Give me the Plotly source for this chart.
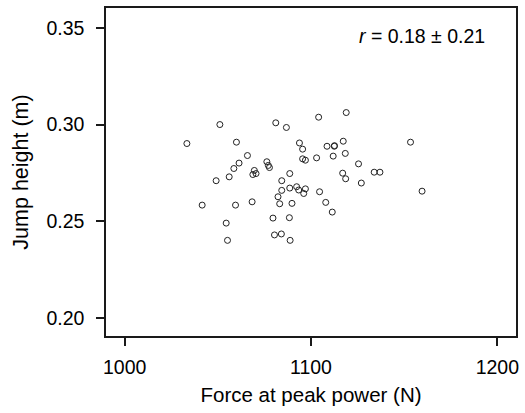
import plotly.graph_objects as go

# Force at peak power (N) and jump height (m) for each trial
force_n = [1033.4, 1051.1, 1060.0, 1049.1, 1041.6, 1054.5, 1055.2, 1056.1, 1058.6, 1061.4,
           1059.5, 1065.9, 1068.4, 1068.8, 1069.6, 1070.5, 1076.3, 1077.1, 1077.7, 1081.1,
           1086.8, 1079.6, 1080.4, 1084.1, 1088.8, 1088.4, 1082.3, 1083.2, 1084.3, 1084.3,
           1088.6, 1088.6, 1089.8, 1092.3, 1093.4, 1096.1, 1097.0, 1093.8, 1095.5, 1095.5,
           1097.0, 1104.1, 1103.0, 1104.6, 1107.9, 1111.4, 1108.6, 1112.5, 1112.6, 1111.9,
           1117.3, 1118.9, 1118.4, 1117.0, 1118.6, 1125.5, 1127.0, 1133.9, 1137.0, 1153.4,
           1159.6]
jump_m = [0.2902, 0.3000, 0.2909, 0.2710, 0.2584, 0.2491, 0.2402, 0.2730, 0.2773, 0.2801,
          0.2584, 0.2840, 0.2601, 0.2742, 0.2763, 0.2747, 0.2808, 0.2789, 0.2778, 0.3009,
          0.2985, 0.2517, 0.2430, 0.2435, 0.2402, 0.2519, 0.2627, 0.2591, 0.2710, 0.2660,
          0.2747, 0.2672, 0.2593, 0.2679, 0.2662, 0.2644, 0.2668, 0.2905, 0.2873, 0.2823,
          0.2816, 0.3038, 0.2828, 0.2653, 0.2598, 0.2548, 0.2888, 0.2888, 0.2891, 0.2837,
          0.2914, 0.3062, 0.2851, 0.2749, 0.2720, 0.2797, 0.2698, 0.2754, 0.2754, 0.2909,
          0.2656]

x_ticks = [1000, 1100, 1200]
y_ticks = [0.20, 0.25, 0.30, 0.35]
corr_text = "<i>r</i> = 0.18 ± 0.21"

ink = "#1a1a1a"
font = "Liberation Sans, Arial, sans-serif"

fig = go.Figure(
    go.Scatter(
        x=force_n, y=jump_m, mode="markers",
        marker=dict(symbol="circle-open", size=6, color="#222222",
                    line=dict(width=1, color="#222222")),
        hoverinfo="skip",
    )
)

axis_common = dict(
    showline=True, linecolor=ink, linewidth=1.5, mirror=True,
    ticks="outside", ticklen=8, tickwidth=1.5, tickcolor=ink,
    showgrid=False, zeroline=False,
    tickfont=dict(family=font, size=19.5, color="#000000"),
)

fig.update_xaxes(
    range=[990, 1210], tickvals=x_ticks, ticktext=[str(v) for v in x_ticks],
    ticklabelstandoff=5,
    title=dict(text="Force at peak power (N)", font=dict(family=font, size=20.5, color="#000000"),
               standoff=10),
    **axis_common,
)
fig.update_yaxes(
    range=[0.1908, 0.3602], tickvals=y_ticks, ticktext=[f"{v:.2f}" for v in y_ticks],
    ticklabelstandoff=8,
    title=dict(text="Jump height (m)", font=dict(family=font, size=21.5, color="#000000"),
               standoff=12),
    **axis_common,
)

fig.add_annotation(
    x=1194.7, y=0.3459, xref="x", yref="y", text=corr_text, showarrow=False,
    xanchor="right", yanchor="middle",
    font=dict(family=font, size=19.5, color="#000000"),
)

fig.update_layout(
    width=525, height=413,
    margin=dict(l=106, r=7, t=6, b=77),
    paper_bgcolor="white", plot_bgcolor="white",
    showlegend=False,
)

fig.write_html("out.html")
